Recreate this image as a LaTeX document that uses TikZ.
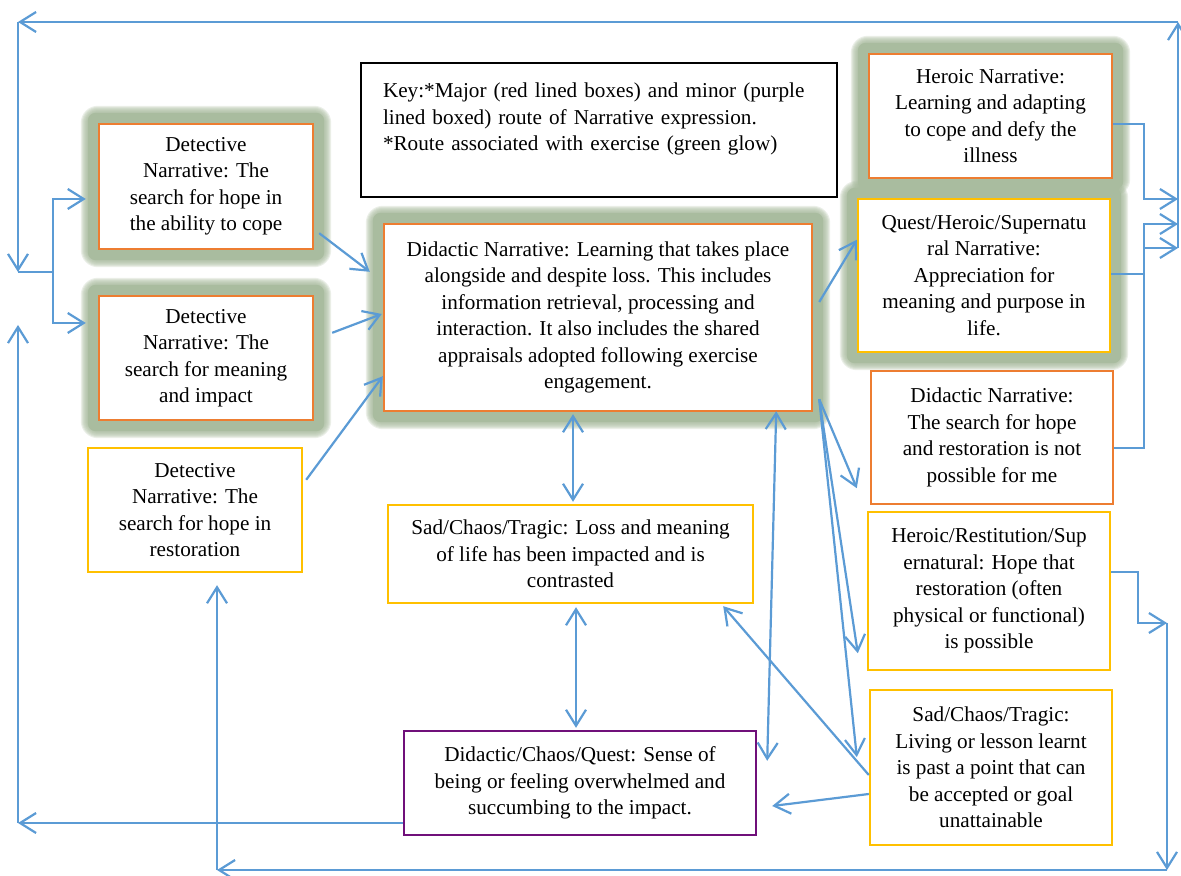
\documentclass[tikz,border=0pt]{standalone}
\usepackage{fontspec}
\setmainfont{Liberation Serif}
\usetikzlibrary{arrows.meta}
\pgfdeclarelayer{bg}
\pgfsetlayers{bg,main}
\definecolor{lineblue}{HTML}{5B9BD5}
\definecolor{borange}{HTML}{ED7D31}
\definecolor{byellow}{HTML}{FFC000}
\definecolor{bpurple}{HTML}{70107A}
\definecolor{glowc}{HTML}{A9BC9F}
\newcommand\glowbox[1]{%
  \begin{pgfonlayer}{bg}
    \foreach \o in {8.5,8,7.5,7,6.5,6,5.5}{%
      \fill[glowc,opacity=0.22,rounded corners=\o pt]
        ([xshift=-\o pt,yshift=-\o pt]#1.south west) rectangle ([xshift=\o pt,yshift=\o pt]#1.north east);}
    \fill[glowc,rounded corners=4pt]
      ([xshift=-5pt,yshift=-5pt]#1.south west) rectangle ([xshift=5pt,yshift=5pt]#1.north east);
  \end{pgfonlayer}}
\begin{document}
\begin{tikzpicture}[x=0.5pt,y=-0.5pt,
  txt/.style={font=\fontsize{10.6pt}{13.25pt}\selectfont, align=center, inner sep=0pt, fill=white},
  obox/.style={txt, draw=borange, line width=1.2pt},
  ybox/.style={txt, draw=byellow, line width=1.2pt},
  pbox/.style={txt, draw=bpurple, line width=1.2pt},
  kbox/.style={txt, draw=black, line width=1.4pt, align=left},
  conn/.style={draw=lineblue, line width=1.1pt},
  arr/.style={conn, -{Straight Barb[length=8pt,width=10pt,line width=1.1pt]}},
  darr/.style={conn, {Straight Barb[length=8pt,width=10pt,line width=1.1pt]}-{Straight Barb[length=8pt,width=10pt,line width=1.1pt]}}
]
\useasboundingbox (0,0) rectangle (1181,876);
\begin{pgfonlayer}{bg}
\fill[white] (0,0) rectangle (1181,876);
\end{pgfonlayer}

% boxes
\node[obox, minimum width=107pt, minimum height=62.5pt] (det1) at (206,186.5)
  {Detective\\Narrative: The\\search for hope in\\the ability to cope};
\node[obox, minimum width=107pt, minimum height=62pt] (det2) at (206,358)
  {Detective\\Narrative: The\\search for meaning\\and impact};
\node[ybox, minimum width=107pt, minimum height=62pt] (det3) at (195,510)
  {Detective\\Narrative: The\\search for hope in\\restoration};
\node[kbox, minimum width=238pt, minimum height=67pt, text width=216pt] (key) at (599,130)
  {Key:*Major (red lined boxes) and minor (purple\\lined boxed) route of Narrative expression.\\{*}Route associated with exercise (green glow)\\~};
\node[obox, minimum width=214pt, minimum height=93.5pt] (did) at (598,317.5)
  {Didactic Narrative: Learning that takes place\\alongside and despite loss. This includes\\information retrieval, processing and\\interaction. It also includes the shared\\appraisals adopted following exercise\\engagement.};
\node[obox, minimum width=121.5pt, minimum height=62pt] (hero) at (990.5,116)
  {Heroic Narrative:\\Learning and adapting\\to cope and defy the\\illness};
\node[ybox, minimum width=126pt, minimum height=76.5pt] (quest) at (984,275.5)
  {Quest/Heroic/Supernatu\\ral Narrative:\\Appreciation for\\meaning and purpose in\\life.};
\node[obox, minimum width=121pt, minimum height=66.5pt] (didnot) at (992,437.5)
  {Didactic Narrative:\\The search for hope\\and restoration is not\\possible for me};
\node[ybox, minimum width=121pt, minimum height=79pt] (herores) at (989,591)
  {Heroic/Restitution/Sup\\ernatural: Hope that\\restoration (often\\physical or functional)\\is possible};
\node[ybox, minimum width=121pt, minimum height=77.5pt] (sadR) at (991,767.5)
  {Sad/Chaos/Tragic:\\Living or lesson learnt\\is past a point that can\\be accepted or goal\\unattainable};
\node[ybox, minimum width=182.5pt, minimum height=49pt] (sadM) at (570.5,554)
  {Sad/Chaos/Tragic: Loss and meaning\\of life has been impacted and is\\contrasted};
\node[pbox, minimum width=176pt, minimum height=52pt] (purp) at (580,783)
  {Didactic/Chaos/Quest: Sense of\\being or feeling overwhelmed and\\succumbing to the impact.};

% glows
\glowbox{det1}
\glowbox{det2}
\glowbox{did}
\glowbox{hero}
\glowbox{quest}

% routing coordinates
\coordinate (R1) at (1178,199);
\coordinate (R2) at (1178,224);
\coordinate (R3) at (1178,248);
\coordinate (TR) at (1178,22);
\coordinate (TL) at (18,22);
\coordinate (LM) at (18,272);
\coordinate (LB) at (53,272);
\coordinate (BL) at (18,823);
\coordinate (LU) at (18,325);
\coordinate (BRv) at (1167,623);
\coordinate (BR) at (1167,870);
\coordinate (BB) at (217,870);

% diagonal connectors
\draw[arr] ([shift={(5,-17)}]det1.south east) -- ([shift={(-13,49)}]did.north west);
\draw[arr] ([shift={(18,38)}]det2.north east) -- ([shift={(-1,-3.5)}]did.west);
\draw[arr] ([shift={(3,33)}]det3.north east) -- ([shift={(0,-36)}]did.south west);
\draw[arr] ([shift={(6,-15.5)}]did.east) -- ([shift={(0,42)}]quest.north west);
\draw[darr] ([shift={(-25,2)}]did.south) -- ([shift={(2.5,-2)}]sadM.north);
\draw[darr] ([shift={(5.5,3)}]sadM.south) -- ([shift={(-4,-2)}]purp.north);
\draw[darr] ([shift={(-37,-1)}]did.south east) -- ([shift={(10,31)}]purp.north east);
\draw[arr] ([shift={(6,-13)}]did.south east) -- ([shift={(-13,-17)}]didnot.south west);
\draw[arr] ([shift={(6,-13)}]did.south east) -- ([shift={(-9,-18)}]herores.south west);
\draw[arr] ([shift={(6,-13)}]did.south east) -- ([shift={(-12,-10.5)}]sadR.west);
\draw[arr] ([shift={(0,7.5)}]sadR.west) -- ([shift={(-31,2)}]sadM.south east);
\draw[arr] ([shift={(0,26.5)}]sadR.west) -- ([shift={(15,23)}]purp.east);

% right side elbows
\draw[arr] ([shift={(0,8)}]hero.east) -- ++(31,0) |- (R1);
\draw[arr] ([shift={(0,-1.5)}]quest.east) -- ++(33,0) |- (R2);
\draw[arr] ([shift={(0,10.5)}]didnot.east) -- ++(30,0) |- (R3);
\draw[arr] (R3) -- (TR);
\draw[arr] (TR) -- (TL);
\draw[arr] (TL) -- (LM);
\draw[conn] (LM) -- (LB);
\draw[arr] (LB) |- ([shift={(-12,12.5)}]det1.west);
\draw[arr] (LB) |- ([shift={(-12,-35)}]det2.west);

% bottom loops
\draw[arr] ([shift={(0,40)}]purp.west) -- (BL);
\draw[arr] (BL) -- (LU);
\draw[arr] ([shift={(0,-19)}]herores.east) -- ++(27,0) -- ++(0,51) -- (BRv);
\draw[arr] (BRv) -- (BR);
\draw[arr] (BR) -- (BB);
\draw[arr] (BB) -- ([shift={(22,12)}]det3.south);
\end{tikzpicture}
\end{document}
